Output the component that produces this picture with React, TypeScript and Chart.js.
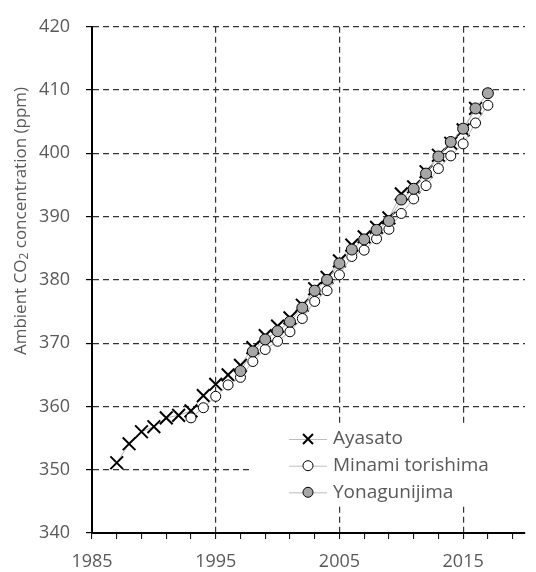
import React, { useEffect, useRef } from 'react';
import { Chart, registerables } from 'chart.js';

Chart.register(...registerables);

// ---- Data ----
const ayasatoYears = [1987, 1988, 1989, 1990, 1991, 1992, 1993, 1994, 1995, 1996, 1997, 1998, 1999, 2000, 2001, 2002, 2003, 2004, 2005, 2006, 2007, 2008, 2009, 2010, 2011, 2012, 2013, 2014, 2015, 2016];
const ayasatoValues = [351.1, 354.1, 356.0, 356.8, 358.2, 358.6, 359.3, 361.7, 363.5, 365.0, 366.5, 369.3, 371.2, 372.7, 374.0, 376.0, 378.6, 380.4, 383.0, 385.5, 386.8, 388.3, 389.8, 393.6, 394.7, 397.1, 399.7, 401.6, 403.7, 407.1];

const minamiYears = [1993, 1994, 1995, 1996, 1997, 1998, 1999, 2000, 2001, 2002, 2003, 2004, 2005, 2006, 2007, 2008, 2009, 2010, 2011, 2012, 2013, 2014, 2015, 2016, 2017];
const minamiValues = [358.2, 359.8, 361.6, 363.4, 364.6, 367.1, 369.0, 370.3, 371.8, 373.9, 376.6, 378.3, 380.8, 383.7, 384.7, 386.5, 388.0, 390.5, 392.8, 394.9, 397.6, 399.6, 401.5, 404.8, 407.6];

const yonaguniYears = [1997, 1998, 1999, 2000, 2001, 2002, 2003, 2004, 2005, 2006, 2007, 2008, 2009, 2010, 2011, 2012, 2013, 2014, 2015, 2016, 2017];
const yonaguniValues = [365.6, 368.7, 370.6, 371.9, 373.4, 375.6, 378.3, 380.0, 382.6, 384.8, 386.4, 387.9, 389.3, 392.7, 394.4, 396.8, 399.5, 401.8, 403.9, 407.1, 409.5];

const seriesNames = ['Ayasato', 'Minami torishima', 'Yonagunijima'];
const xTickYears = [1985, 1987, 1989, 1991, 1993, 1995, 1997, 1999, 2001, 2003, 2005, 2007, 2009, 2011, 2013, 2015, 2017, 2019];
const xLabelYears = [1985, 1995, 2005, 2015];
const xGridYears = [1995, 2005, 2015];
const yTickValues = [340, 350, 360, 370, 380, 390, 400, 410, 420];
const yTitleParts = ['Ambient CO', '2', ' concentration (ppm)'];

const FONT = '"Open Sans", "DejaVu Sans", sans-serif';
const TEXT_COLOR = '#595959';
const GRID_COLOR = '#333333';

const toPoints = (xs: number[], ys: number[]) => xs.map((x, i) => ({ x, y: ys[i] }));

const legendPlugin = {
  id: 'boxLegend',
  afterDatasetsDraw(chart: any) {
    const ctx = chart.ctx as CanvasRenderingContext2D;
    ctx.save();
    ctx.fillStyle = '#ffffff';
    ctx.fillRect(251, 423, 285, 82);
    const rows = [439, 465.7, 492.3];
    rows.forEach((y, i) => {
      ctx.strokeStyle = '#bdbdbd';
      ctx.lineWidth = 1;
      ctx.setLineDash([]);
      ctx.beginPath();
      ctx.moveTo(289, y + 0.5);
      ctx.lineTo(327, y + 0.5);
      ctx.stroke();
      const mx = 308;
      if (i === 0) {
        ctx.strokeStyle = '#000';
        ctx.lineWidth = 2;
        ctx.beginPath();
        ctx.moveTo(mx - 5, y - 5);
        ctx.lineTo(mx + 5, y + 5);
        ctx.moveTo(mx - 5, y + 5);
        ctx.lineTo(mx + 5, y - 5);
        ctx.stroke();
      } else {
        ctx.fillStyle = i === 1 ? '#ffffff' : '#a6a6a6';
        ctx.strokeStyle = '#000';
        ctx.lineWidth = 1;
        ctx.beginPath();
        ctx.arc(mx, y, 5, 0, Math.PI * 2);
        ctx.fill();
        ctx.stroke();
      }
      ctx.fillStyle = TEXT_COLOR;
      ctx.font = `19px ${FONT}`;
      ctx.textAlign = 'left';
      ctx.textBaseline = 'middle';
      ctx.fillText(seriesNames[i], 333, y);
    });
    ctx.restore();
  },
  afterDraw(chart: any) {
    const ctx = chart.ctx as CanvasRenderingContext2D;
    ctx.save();
    const big = `17px ${FONT}`;
    const small = `12px ${FONT}`;
    ctx.font = big;
    const w0 = ctx.measureText(yTitleParts[0]).width;
    const w2 = ctx.measureText(yTitleParts[2]).width;
    ctx.font = small;
    const w1 = ctx.measureText(yTitleParts[1]).width;
    const total = w0 + w1 + w2;
    ctx.translate(21, 221);
    ctx.rotate(-Math.PI / 2);
    ctx.fillStyle = TEXT_COLOR;
    ctx.textBaseline = 'middle';
    ctx.textAlign = 'left';
    let x = -total / 2;
    ctx.font = big;
    ctx.fillText(yTitleParts[0], x, 0);
    x += w0;
    ctx.font = small;
    ctx.fillText(yTitleParts[1], x, 4);
    x += w1;
    ctx.font = big;
    ctx.fillText(yTitleParts[2], x, 0);
    ctx.restore();
  },
};

export default function App() {
  const canvasRef = useRef<HTMLCanvasElement | null>(null);

  useEffect(() => {
    if (!canvasRef.current) return;
    const chart = new Chart(canvasRef.current, {
      type: 'scatter',
      data: {
        datasets: [
          {
            label: seriesNames[0],
            data: toPoints(ayasatoYears, ayasatoValues),
            showLine: true,
            borderColor: '#b4b4b4',
            borderWidth: 1,
            pointStyle: 'crossRot',
            pointRadius: 9,
            pointBorderColor: '#000',
            pointBorderWidth: 2,
            order: 3,
          },
          {
            label: seriesNames[1],
            data: toPoints(minamiYears, minamiValues),
            showLine: true,
            borderColor: '#b4b4b4',
            borderWidth: 1,
            pointStyle: 'circle',
            pointRadius: 5,
            pointBackgroundColor: '#ffffff',
            pointBorderColor: '#000',
            pointBorderWidth: 1,
            order: 2,
          },
          {
            label: seriesNames[2],
            data: toPoints(yonaguniYears, yonaguniValues),
            showLine: true,
            borderColor: '#b4b4b4',
            borderWidth: 1,
            pointStyle: 'circle',
            pointRadius: 5.5,
            pointBackgroundColor: '#a6a6a6',
            pointBorderColor: '#000',
            pointBorderWidth: 1,
            order: 1,
          },
        ],
      },
      options: {
        responsive: false,
        animation: false,
        devicePixelRatio: 1,
        layout: { padding: { top: 21, right: 0, left: 0, bottom: 0 } },
        plugins: {
          legend: { display: false },
          tooltip: { enabled: false },
        },
        scales: {
          x: {
            type: 'linear',
            min: 1985,
            max: 2020,
            afterBuildTicks: (s: any) => {
              s.ticks = xTickYears.map((v) => ({ value: v }));
            },
            afterFit: (s: any) => {
              s.height = 39;
            },
            ticks: {
              autoSkip: false,
              maxRotation: 0,
              padding: 12,
              color: TEXT_COLOR,
              font: { family: FONT, size: 18 },
              callback: (v: any) => (xLabelYears.includes(Number(v)) ? String(v) : ''),
            },
            grid: {
              color: (c: any) => (c.tick && xGridYears.includes(c.tick.value) ? GRID_COLOR : 'rgba(0,0,0,0)'),
              lineWidth: 1.2,
              drawTicks: true,
              tickColor: '#000',
              tickLength: 6,
              tickWidth: 1,
            },
            border: { color: '#000', width: 2, dash: [6, 4] },
          },
          y: {
            min: 340,
            max: 420,
            afterBuildTicks: (s: any) => {
              s.ticks = yTickValues.map((v) => ({ value: v }));
            },
            afterFit: (s: any) => {
              s.width = 92;
            },
            ticks: {
              padding: 16,
              color: TEXT_COLOR,
              font: { family: FONT, size: 18 },
              callback: (v: any) => String(v),
            },
            grid: {
              color: (c: any) => (c.tick && c.tick.value !== 340 ? GRID_COLOR : 'rgba(0,0,0,0)'),
              lineWidth: 1.2,
              drawTicks: true,
              tickColor: '#000',
              tickLength: 6,
              tickWidth: 1.2,
            },
            border: { color: '#000', width: 2, dash: [6, 4] },
          },
        },
      },
      plugins: [legendPlugin],
    });
    return () => chart.destroy();
  }, []);

  return (
    <div style={{ position: 'absolute', left: 0, top: 0, width: 536, height: 572, background: '#fff' }}>
      <canvas ref={canvasRef} width={536} height={572} style={{ display: 'block' }} />
    </div>
  );
}
